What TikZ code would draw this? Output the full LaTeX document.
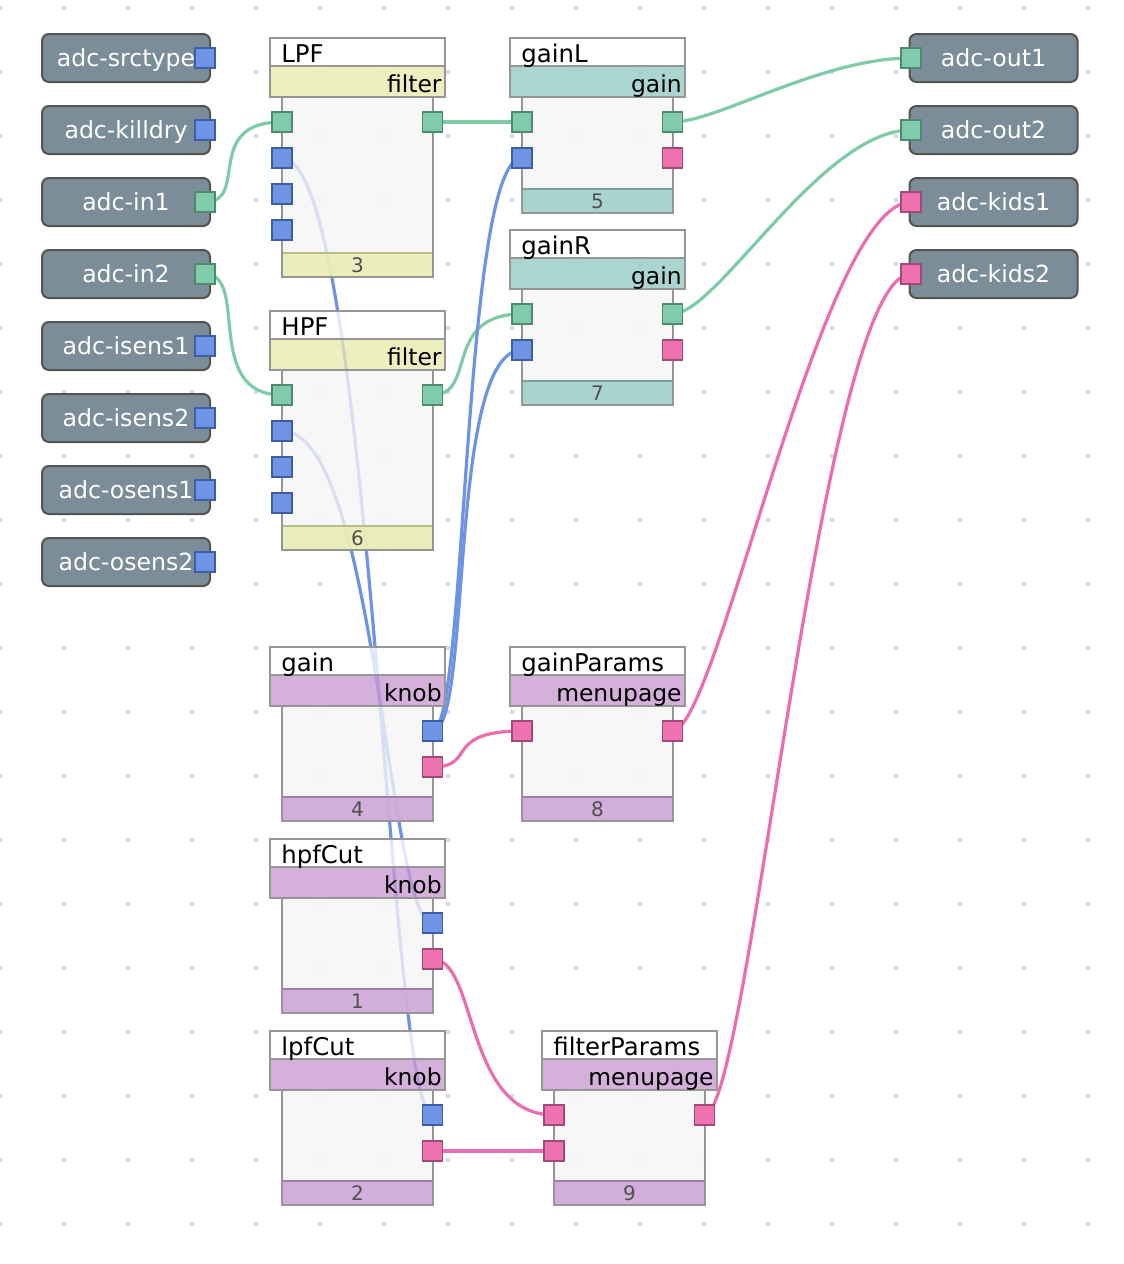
\documentclass[tikz,border=0pt]{standalone}
\usepackage{fontspec}
\setmainfont{DejaVu Sans}
\usepackage{tikz}

\definecolor{dotcol}{RGB}{214,214,247}
\definecolor{adcfill}{RGB}{123,141,152}
\definecolor{adcline}{RGB}{84,84,84}
\definecolor{modline}{RGB}{150,150,150}
\definecolor{modbody}{RGB}{245,245,245}
\definecolor{numcol}{RGB}{80,80,80}
\definecolor{cfilter}{RGB}{232,236,172}
\definecolor{cgain}{RGB}{147,202,196}
\definecolor{cknob}{RGB}{200,154,210}
\definecolor{wgreen}{RGB}{127,203,168}
\definecolor{wblue}{RGB}{110,147,226}
\definecolor{wpink}{RGB}{234,109,173}
\definecolor{pfgreen}{RGB}{128,203,171}
\definecolor{plgreen}{RGB}{79,138,111}
\definecolor{pfblue}{RGB}{111,148,230}
\definecolor{plblue}{RGB}{62,94,163}
\definecolor{pfpink}{RGB}{239,114,176}
\definecolor{plpink}{RGB}{160,74,120}

\pgfdeclarelayer{grid}
\pgfdeclarelayer{wires}
\pgfsetlayers{grid,wires,main}

\tikzset{
  adcbox/.style={draw=adcline, line width=1pt, fill=adcfill, rounded corners=3.5pt,
    minimum width=84pt, minimum height=24pt, inner sep=0pt, text=white,
    font=\fontsize{11.8}{14}\selectfont, text height=10pt, text depth=2pt},
  port/.style={line width=0.9pt, minimum size=10pt, inner sep=0pt, outer sep=0pt},
  portg/.style={port, draw=plgreen, fill=pfgreen},
  portb/.style={port, draw=plblue, fill=pfblue},
  portp/.style={port, draw=plpink, fill=pfpink},
  modpart/.style={draw=modline, line width=1.2pt, fill opacity=0.78},
  ttltext/.style={anchor=base west, inner sep=0pt, font=\fontsize{12.2}{14}\selectfont},
  kindtext/.style={anchor=base east, inner sep=0pt, font=\fontsize{11.7}{14}\selectfont},
  numtext/.style={anchor=base, inner sep=0pt, text=numcol, font=\fontsize{10}{12}\selectfont},
  wire/.style={line width=1.6pt}
}

\begin{document}
\begin{tikzpicture}[x=0.5pt, y=-0.5pt]
\useasboundingbox (0,0) rectangle (1124,1264);

%Grid Dots
\begin{pgfonlayer}{grid}
\fill[white] (0,0) rectangle (1124,1264);
\foreach \gx in {0,64,...,1088}
  \foreach \gy in {8,72,...,1224}
    \fill[dotcol] (\gx-2,\gy-2) rectangle ++(4,4);
\end{pgfonlayer}

%ADC Inputs
\foreach \y/\adc/\ptype in {58/srctype/portb, 130/killdry/portb, 202/in1/portg, 274/in2/portg,
    346/isens1/portb, 418/isens2/portb, 490/osens1/portb, 562/osens2/portb}{
  \node[adcbox] (adc-\adc) at (126,\y) {adc-\adc};
  \node[\ptype] (adc-\adc-p) at (205,\y) {};
}

%ADC Outputs
\foreach \y/\adc/\ptype in {58/out1/portg, 130/out2/portg, 202/kids1/portp, 274/kids2/portp}{
  \node[adcbox] (adc-\adc) at (993.5,\y) {adc-\adc};
  \node[\ptype] (adc-\adc-p) at (911,\y) {};
}

%Modules
\foreach \X/\T/\B/\ttl/\kind/\col/\num in {
    270/38/277/LPF/filter/cfilter/3,
    270/311/550/HPF/filter/cfilter/6,
    510/38/213/gainL/gain/cgain/5,
    510/230/405/gainR/gain/cgain/7,
    270/647/821/gain/knob/cknob/4,
    510/647/821/gainParams/menupage/cknob/8,
    270/839/1013/hpfCut/knob/cknob/1,
    270/1031/1205/lpfCut/knob/cknob/2,
    542/1031/1205/filterParams/menupage/cknob/9}{
  \draw[modpart, fill=white] (\X,\T) rectangle ++(175,28);
  \draw[modpart, fill=\col] (\X,\T+28) rectangle ++(175,31);
  \draw[modpart, fill=modbody] (\X+12,\T+59) rectangle (\X+163,\B);
  \draw[modpart, fill=\col] (\X+12,\B-24) rectangle (\X+163,\B);
  \draw[draw=\col!80!black, line width=1pt] (\X+13,\B-24) -- (\X+162,\B-24);
  \node[ttltext] (\ttl-name) at (\X+11,\T+24) {\ttl};
  \node[kindtext] (\ttl-kind) at (\X+172,\T+54) {\kind};
  \node[numtext] (\ttl-num) at (\X+87.5,\B-5) {\num};
}

%Ports LPF & HPF
\node[portg] (LPF-i1) at (282,122) {};
\node[portb] (LPF-i2) at (282,158) {};
\node[portb] (LPF-i3) at (282,194) {};
\node[portb] (LPF-i4) at (282,230) {};
\node[portg] (LPF-o1) at (432.5,122) {};
\node[portg] (HPF-i1) at (282,395) {};
\node[portb] (HPF-i2) at (282,431) {};
\node[portb] (HPF-i3) at (282,467) {};
\node[portb] (HPF-i4) at (282,503) {};
\node[portg] (HPF-o1) at (432.5,395) {};

%Ports gainL & gainR
\node[portg] (gainL-i1) at (522,122) {};
\node[portb] (gainL-i2) at (522,158) {};
\node[portg] (gainL-o1) at (672.5,122) {};
\node[portp] (gainL-o2) at (672.5,158) {};
\node[portg] (gainR-i1) at (522,314) {};
\node[portb] (gainR-i2) at (522,350) {};
\node[portg] (gainR-o1) at (672.5,314) {};
\node[portp] (gainR-o2) at (672.5,350) {};

%Ports Knobs & Menus
\node[portb] (gain-o1) at (432.5,731) {};
\node[portp] (gain-o2) at (432.5,767) {};
\node[portp] (gainParams-i1) at (522,731) {};
\node[portp] (gainParams-o1) at (672.5,731) {};
\node[portb] (hpfCut-o1) at (432.5,923) {};
\node[portp] (hpfCut-o2) at (432.5,959) {};
\node[portb] (lpfCut-o1) at (432.5,1115) {};
\node[portp] (lpfCut-o2) at (432.5,1151) {};
\node[portp] (filterParams-i1) at (554,1115) {};
\node[portp] (filterParams-i2) at (554,1151) {};
\node[portp] (filterParams-o1) at (704.5,1115) {};

%Wires
\begin{pgfonlayer}{wires}
\draw[wire, wgreen] (adc-in1-p.center) .. controls +(45,0) and +(-80,0) .. (LPF-i1.center);
\draw[wire, wgreen] (LPF-o1.center) -- (gainL-i1.center);
\draw[wire, wgreen] (gainL-o1.center) .. controls +(45,0) and +(-90,0) .. (adc-out1-p.center);
\draw[wire, wgreen] (adc-in2-p.center) .. controls +(45,0) and +(-80,0) .. (HPF-i1.center);
\draw[wire, wgreen] (HPF-o1.center) .. controls +(45,0) and +(-80,0) .. (gainR-i1.center);
\draw[wire, wgreen] (gainR-o1.center) .. controls +(45,0) and +(-90,0) .. (adc-out2-p.center);

\draw[wire, wblue] (gain-o1.center) .. controls +(35,0) and +(-60,0) .. (gainL-i2.center);
\draw[wire, wblue] (gain-o1.center) .. controls +(40,0) and +(-75,0) .. (gainR-i2.center);
\draw[wire, wblue] (lpfCut-o1.center) .. controls +(-45,0) and +(90,0) .. (LPF-i2.center);
\draw[wire, wblue] (hpfCut-o1.center) .. controls +(-45,0) and +(95,0) .. (HPF-i2.center);

\draw[wire, wpink] (gain-o2.center) .. controls +(45,0) and +(-80,0) .. (gainParams-i1.center);
\draw[wire, wpink] (gainParams-o1.center) .. controls +(45,0) and +(-90,0) .. (adc-kids1-p.center);
\draw[wire, wpink] (hpfCut-o2.center) .. controls +(45,0) and +(-90,0) .. (filterParams-i1.center);
\draw[wire, wpink] (lpfCut-o2.center) -- (filterParams-i2.center);
\draw[wire, wpink] (filterParams-o1.center) .. controls +(45,0) and +(-90,0) .. (adc-kids2-p.center);
\end{pgfonlayer}

\end{tikzpicture}
\end{document}
